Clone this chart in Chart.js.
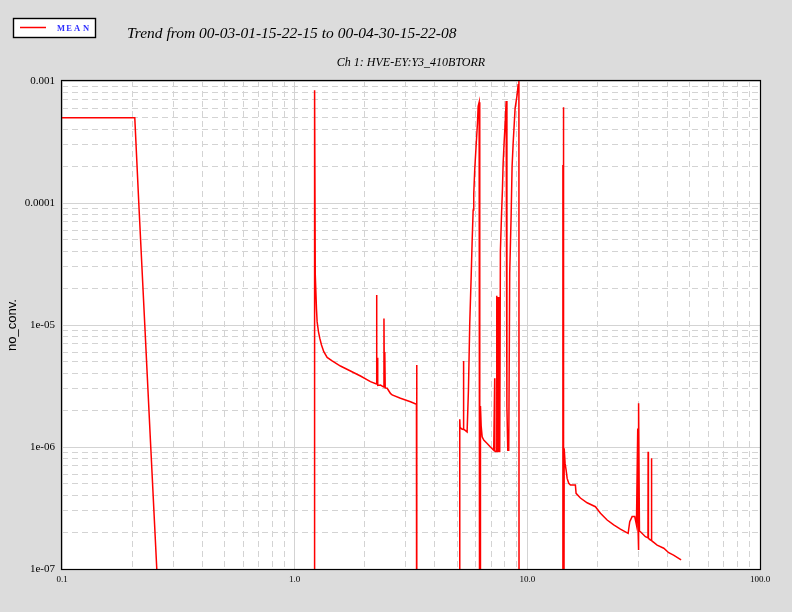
<!DOCTYPE html>
<html>
<head>
<meta charset="utf-8">
<script src="https://cdn.jsdelivr.net/npm/chart.js@4.4.1/dist/chart.umd.min.js"></script>
<style>
  html, body { margin: 0; padding: 0; background: #dcdcdc; }
  #wrap { width: 792px; height: 612px; }
</style>
</head>
<body>
<div id="wrap"><canvas id="trend" width="792" height="612"></canvas></div>
<script>
// value used where the trace drops off the bottom of the plot
const BELOW = 1e-10;

const xVals = [
    0.1, 0.2055, 0.2138, 0.2269, 0.2407, 0.2555, 0.27,
    1.214, 1.218, 1.226, 1.241, 1.249, 1.266, 1.282, 1.304, 1.334, 1.379, 1.449, 1.573, 1.737, 1.918, 2.117, 2.246,
    2.25, 2.255, 2.265, 2.275, 2.338, 2.415, 2.42, 2.43, 2.44, 2.45, 2.498, 2.58, 2.624, 2.849, 3.146, 3.338, 3.345, 3.352,
    5.12, 5.124, 5.14, 5.21, 5.30, 5.315, 5.33, 5.51, 5.583, 5.655, 5.734, 5.791, 5.849, 5.884, 5.943, 6.026, 6.105, 6.147, 6.208, 6.245,
    6.28, 6.288, 6.332, 6.395, 6.497, 6.72, 6.94, 7.17, 7.24, 7.25, 7.29, 7.38, 7.39, 7.42, 7.45, 7.48, 7.51, 7.55, 7.61,
    7.66, 7.74, 7.82, 7.87, 7.95, 8.03, 8.11, 8.17, 8.24, 8.32, 8.40, 8.52, 8.60, 8.69, 8.86, 9.04, 9.13, 9.2, 9.22,
    14.20, 14.22, 14.25, 14.28, 14.31, 14.34, 14.40, 14.53, 14.68, 14.83, 15.07, 15.32, 16.09, 16.2, 16.91, 18.07, 19.62,
    20.62, 22.03, 23.51, 25.12, 27.12, 27.55, 28.21, 28.95, 29.44, 29.82, 29.9, 30.03, 30.12, 30.33, 30.63, 32.18,
    33.0, 33.05, 33.15, 33.81, 34.1, 34.15, 34.25, 36.13, 38.58, 40.53, 42.5, 45.8
];

const meanVals = [
    5.0e-4, 5.0e-4, 1e-4, 1e-5, 1e-6, 1e-7, BELOW,
    BELOW, 8.4e-4, 2.6e-5, 1.35e-5, 1.06e-5, 8.8e-6, 7.8e-6, 6.86e-6, 6.04e-6, 5.43e-6, 5.09e-6, 4.61e-6, 4.2e-6, 3.82e-6, 3.43e-6, 3.28e-6,
    1.76e-5, 3.3e-6, 5.4e-6, 3.2e-6, 3.22e-6, 3.1e-6, 1.13e-5, 3.1e-6, 6.0e-6, 3.05e-6, 3.03e-6, 2.75e-6, 2.67e-6, 2.51e-6, 2.35e-6, 2.24e-6, 4.7e-6, BELOW,
    BELOW, 1.69e-6, 1.45e-6, 1.41e-6, 1.39e-6, 5.07e-6, 1.4e-6, 1.33e-6, 2.93e-6, 1.02e-5, 2.44e-5, 4.82e-5, 8.77e-5, 1.18e-4, 1.89e-4, 2.99e-4, 4.5e-4, 6.2e-4, 6.7e-4, BELOW,
    BELOW, 2.17e-6, 1.49e-6, 1.21e-6, 1.14e-6, 1.07e-6, 1.0e-6, 9.4e-7, 3.66e-6, 9.4e-7, 9.2e-7, 9.2e-7, 1.74e-5, 9.2e-7, 1.7e-5, 9.2e-7, 1.7e-5, 9.2e-7, 9.2e-7,
    4.0e-5, 7.7e-5, 1.32e-4, 2.11e-4, 3.18e-4, 4.5e-4, 6.86e-4, 2.14e-6, 9.4e-7, 9.4e-7, 2.67e-5, 7.97e-5, 1.99e-4, 3.08e-4, 5.97e-4, 7.68e-4, 9.3e-4, 2e-3, BELOW,
    BELOW, 2.05e-4, BELOW, 2.05e-4, 6.08e-4, BELOW, 9.75e-7, 7.34e-7, 6.47e-7, 5.53e-7, 5.04e-7, 4.88e-7, 4.88e-7, 4.17e-7, 3.82e-7, 3.49e-7, 3.24e-7,
    2.86e-7, 2.52e-7, 2.3e-7, 2.12e-7, 1.96e-7, 2.44e-7, 2.69e-7, 2.69e-7, 2.3e-7, 1.42e-6, 2.2e-7, 1.43e-7, 2.28e-6, 2.05e-7, 2.02e-7, 1.84e-7,
    1.8e-7, 9.14e-7, 1.78e-7, 1.73e-7, 1.72e-7, 8.07e-7, 1.71e-7, 1.57e-7, 1.48e-7, 1.36e-7, 1.30e-7, 1.19e-7
];

const xDecades = [0.1, 1, 10];
const yDecades = [1e-7, 1e-6, 1e-5, 1e-4];
const xTickLabels = ['0.1', '1.0', '10.0', '100.0'];
const yTickLabels = ['1e-07', '1e-06', '1e-05', '0.0001', '0.001'];

const titleText = 'Trend from 00-03-01-15-22-15 to 00-04-30-15-22-08';
const subTitleText = 'Ch 1: HVE-EY:Y3_410BTORR';
const legendText = 'MEAN';

function gridValues(decades) {
    const vals = [];
    decades.forEach(d => {
        for (let m = 1; m < 10; m++) vals.push(d * m);
    });
    vals.push(decades[decades.length - 1] * 10);
    return vals;
}

function isMajor(v) {
    const l = Math.log10(v);
    return Math.abs(l - Math.round(l)) < 1e-6;
}

const GRID = '#d3d3d3';

const framePlugin = {
    id: 'frame',
    beforeDraw(chart) {
        const { ctx, chartArea: a } = chart;
        ctx.save();
        ctx.fillStyle = '#ffffff';
        ctx.fillRect(a.left, a.top, a.right - a.left, a.bottom - a.top);
        ctx.restore();
    },
    afterDraw(chart) {
        const { ctx, chartArea: a } = chart;
        ctx.save();
        // plot frame
        ctx.strokeStyle = '#000000';
        ctx.lineWidth = 1.2;
        ctx.strokeRect(a.left - 0.5, a.top - 0.5, a.right - a.left + 1, a.bottom - a.top + 1);

        // legend box
        ctx.fillStyle = '#ffffff';
        ctx.fillRect(13.5, 18.5, 82, 19);
        ctx.lineWidth = 1.4;
        ctx.strokeRect(13.5, 18.5, 82, 19);
        ctx.strokeStyle = '#ff0000';
        ctx.lineWidth = 1.5;
        ctx.beginPath();
        ctx.moveTo(20, 27.5);
        ctx.lineTo(46, 27.5);
        ctx.stroke();
        ctx.fillStyle = '#3030ff';
        ctx.font = 'bold 8.5px "Liberation Serif", serif';
        ctx.textBaseline = 'alphabetic';
        ctx.textAlign = 'center';
        const lx = [61, 69, 77, 86];
        legendText.split('').forEach((ch, i) => ctx.fillText(ch, lx[i], 31));

        // titles
        ctx.fillStyle = '#000000';
        ctx.textAlign = 'left';
        ctx.font = 'italic 15.5px "Liberation Serif", serif';
        ctx.fillText(titleText, 127, 37.5);
        ctx.font = 'italic 12px "Liberation Serif", serif';
        ctx.textAlign = 'center';
        ctx.fillText(subTitleText, (a.left + a.right) / 2, 65.5);
        ctx.restore();
    }
};

Chart.defaults.font.family = '"Liberation Serif", serif';
Chart.defaults.color = '#000000';

const xGrid = gridValues(xDecades);
const yGrid = gridValues(yDecades);

new Chart(document.getElementById('trend'), {
    type: 'line',
    data: {
        datasets: [{
            label: legendText,
            data: xVals.map((x, i) => ({ x: x, y: meanVals[i] })),
            borderColor: '#ff0000',
            borderWidth: 1.5,
            pointRadius: 0,
            tension: 0,
            fill: false,
            clip: 0
        }]
    },
    options: {
        responsive: false,
        animation: false,
        layout: { padding: { top: 81, right: 32, left: 0, bottom: 0 } },
        plugins: {
            legend: { display: false },
            title: { display: false },
            tooltip: { enabled: false }
        },
        scales: {
            x: {
                type: 'logarithmic',
                min: 0.1,
                max: 100,
                afterBuildTicks: s => { s.ticks = xGrid.map(v => ({ value: v })); },
                afterFit: s => { s.height = 43; },
                grid: { color: GRID, lineWidth: 1, drawTicks: false },
                border: { display: false, dash: ctx => isMajor(ctx.tick.value) ? [] : [6, 4] },
                ticks: {
                    autoSkip: false,
                    maxRotation: 0,
                    padding: 5,
                    font: { size: 9 },
                    callback: v => isMajor(v) ? xTickLabels[Math.round(Math.log10(v)) + 1] : ''
                }
            },
            y: {
                type: 'logarithmic',
                min: 1e-7,
                max: 1e-3,
                afterBuildTicks: s => { s.ticks = yGrid.map(v => ({ value: v })); },
                afterFit: s => { s.width = 62; },
                grid: { color: GRID, lineWidth: 1, drawTicks: false },
                border: { display: false, dash: ctx => isMajor(ctx.tick.value) ? [] : [6, 4] },
                ticks: {
                    autoSkip: false,
                    padding: 7,
                    font: { size: 11 },
                    callback: v => isMajor(v) ? yTickLabels[Math.round(Math.log10(v)) + 7] : ''
                },
                title: {
                    display: true,
                    text: 'no_conv.',
                    color: '#000000',
                    font: { family: '"Liberation Sans", sans-serif', size: 13 },
                    padding: { top: 5, bottom: 0 }
                }
            }
        }
    },
    plugins: [framePlugin]
});
</script>
</body>
</html>
